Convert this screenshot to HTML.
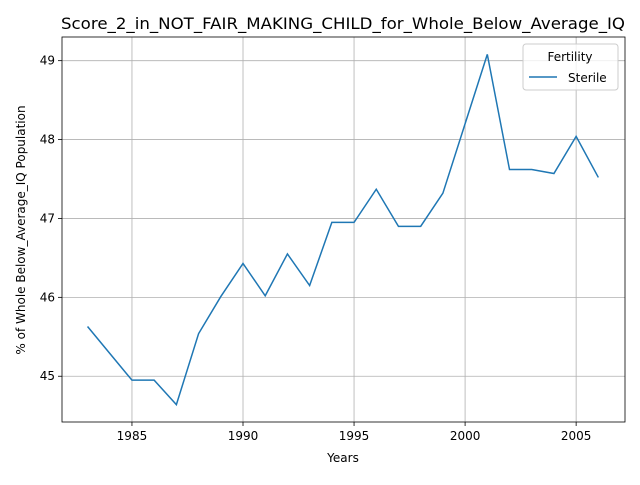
<!DOCTYPE html>
<html><head><meta charset="utf-8"><style>
body{margin:0;background:#fff;font-family:"Liberation Sans","DejaVu Sans",sans-serif}
</style></head><body>
<svg id="c" width="640" height="480" xmlns="http://www.w3.org/2000/svg" font-family="DejaVu Sans, Liberation Sans, sans-serif">
<rect width="640" height="480" fill="#fff"/>
<g id="grid"></g>
<g id="ticks"></g>
<polyline id="line" fill="none" stroke="#1f77b4" stroke-width="1.5"/>
<rect x="62" y="37" width="563" height="385" fill="none" stroke="#000" stroke-width="0.8"/>
<text x="61" y="29" font-size="16" textLength="564" lengthAdjust="spacingAndGlyphs">Score_2_in_NOT_FAIR_MAKING_CHILD_for_Whole_Below_Average_IQ</text>
<text x="343" y="462" font-size="12" text-anchor="middle">Years</text>
<text transform="translate(25,230) rotate(-90)" font-size="12" text-anchor="middle">% of Whole Below_Average_IQ Population</text>
<g>
<rect x="523" y="44" width="95" height="46" rx="3" fill="#fff" fill-opacity="0.8" stroke="#ccc"/>
<text x="570" y="61" font-size="12" text-anchor="middle">Fertility</text>
<line x1="529" y1="77" x2="557" y2="77" stroke="#1f77b4" stroke-width="1.5"/>
<text x="568" y="82" font-size="12">Sterile</text>
</g>
</svg>
<script>
const years=[1983,1984,1985,1986,1987,1988,1989,1990,1991,1992,1993,1994,1995,1996,1997,1998,1999,2000,2001,2002,2003,2004,2005,2006];
const sterile=[45.63,45.29,44.95,44.95,44.64,45.54,46.01,46.43,46.02,46.55,46.15,46.95,46.95,47.37,46.90,46.90,47.32,48.20,49.08,47.62,47.62,47.57,48.04,47.52];
const xTicks=[1985,1990,1995,2000,2005];
const yTicks=[45,46,47,48,49];
const X0=62,X1=625,Y0=422,Y1=37,xmin=1981.85,xmax=2007.2,ymin=44.42,ymax=49.3;
const xs=v=>X0+(v-xmin)/(xmax-xmin)*(X1-X0);
const ys=v=>Y0-(v-ymin)/(ymax-ymin)*(Y0-Y1);
const NS="http://www.w3.org/2000/svg";
const g=document.getElementById('grid'),t=document.getElementById('ticks');
function mk(tag,a,p){const e=document.createElementNS(NS,tag);for(const k in a)e.setAttribute(k,a[k]);p.appendChild(e);return e;}
xTicks.forEach(v=>{const x=xs(v);
const gl=mk('line',{x1:x,x2:x,y1:Y1,y2:Y0,stroke:'#b0b0b0','stroke-width':0.8},g);


mk('line',{x1:x,x2:x,y1:Y0,y2:Y0+4,stroke:'#000','stroke-width':0.8},t);
const tx=mk('text',{x:x,y:Y0+18,'font-size':12,'text-anchor':'middle'},t);tx.textContent=v;

});
yTicks.forEach(v=>{const y=ys(v);
const gl=mk('line',{x1:X0,x2:X1,y1:y,y2:y,stroke:'#b0b0b0','stroke-width':0.8},g);


mk('line',{x1:X0-4,x2:X0,y1:y,y2:y,stroke:'#000','stroke-width':0.8},t);
const tx=mk('text',{x:X0-7,y:y+4,'font-size':12,'text-anchor':'end'},t);tx.textContent=v;

});
document.getElementById('line').setAttribute('points',years.map((y,i)=>xs(y)+','+ys(sterile[i])).join(' '));
</script>
</body></html>
